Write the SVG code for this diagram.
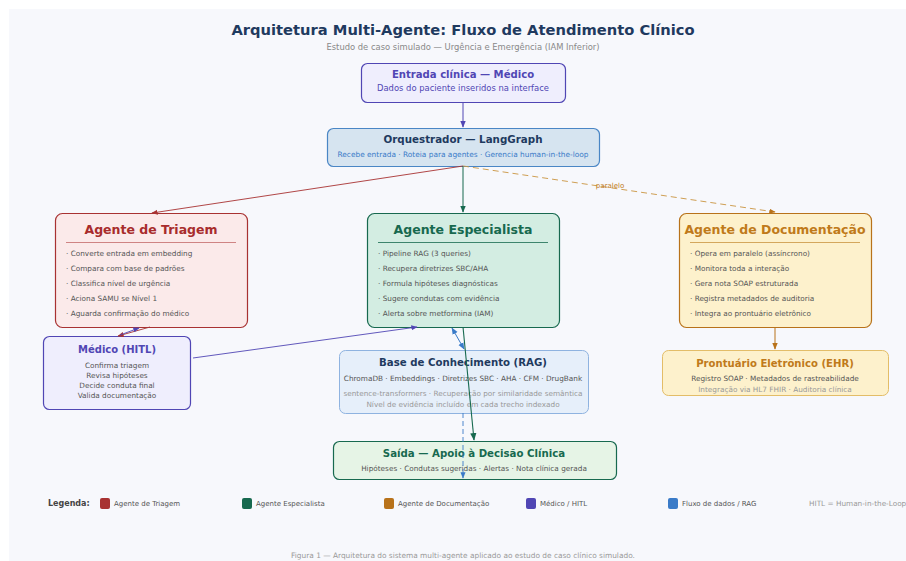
<svg xmlns="http://www.w3.org/2000/svg" width="906" height="561" viewBox="0 0 906 561">
<style>
text{font-family:"DejaVu Sans","Liberation Sans",sans-serif}
.t{font-weight:bold;text-anchor:middle}
.c{text-anchor:middle}
.item{font-size:7.3px;fill:#555}
.sub{font-size:7.3px;fill:#555}
.lite{font-size:7.3px;fill:#999}
.leg{font-size:7px;fill:#555}
</style>
<defs>
<marker id="aR" viewBox="0 0 10 10" refX="9" refY="5" markerWidth="7" markerHeight="7" orient="auto-start-reverse"><path d="M0,1 L10,5 L0,9 z" fill="#a83232"/></marker>
<marker id="aG" viewBox="0 0 10 10" refX="9" refY="5" markerWidth="7" markerHeight="7" orient="auto-start-reverse"><path d="M0,1 L10,5 L0,9 z" fill="#17694f"/></marker>
<marker id="aO" viewBox="0 0 10 10" refX="9" refY="5" markerWidth="7" markerHeight="7" orient="auto-start-reverse"><path d="M0,1 L10,5 L0,9 z" fill="#b8721a"/></marker>
<marker id="aP" viewBox="0 0 10 10" refX="9" refY="5" markerWidth="7" markerHeight="7" orient="auto-start-reverse"><path d="M0,1 L10,5 L0,9 z" fill="#5046b4"/></marker>
<marker id="aB" viewBox="0 0 10 10" refX="9" refY="5" markerWidth="7" markerHeight="7" orient="auto-start-reverse"><path d="M0,1 L10,5 L0,9 z" fill="#3a7bc8"/></marker>
</defs>
<rect x="0" y="0" width="906" height="561" fill="#ffffff"/>
<rect x="9" y="9" width="897" height="552" fill="#f7f8fc"/>

<text x="463" y="35" class="t" font-size="14.7" fill="#1f3a5f">Arquitetura Multi-Agente: Fluxo de Atendimento Clínico</text>
<text x="463" y="50" class="c" font-size="8.4" fill="#888">Estudo de caso simulado — Urgência e Emergência (IAM Inferior)</text>

<g id="entrada">
<rect x="361.5" y="63.5" width="204" height="39" rx="6" fill="#efeefd" stroke="#5046b4" stroke-width="1.2"/>
<text x="463" y="78" class="t" font-size="10.1" fill="#5046b4">Entrada clínica — Médico</text>
<text x="463" y="91" class="c" font-size="8.4" fill="#5046b4">Dados do paciente inseridos na interface</text>
</g>

<g id="orquestrador">
<rect x="327.5" y="128.5" width="272" height="38" rx="6" fill="#d6e4f0" stroke="#4a86c5" stroke-width="1.2"/>
<text x="463" y="143" class="t" font-size="10.3" fill="#1f3a5f">Orquestrador — LangGraph</text>
<text x="463" y="157" class="c" font-size="7.4" fill="#3a7bc8">Recebe entrada · Roteia para agentes · Gerencia human-in-the-loop</text>
</g>

<g id="triagem">
<rect x="55.5" y="213.5" width="192" height="114" rx="7" fill="#fbeaea" stroke="#a83232" stroke-width="1.2"/>
<text x="151" y="234" class="t" font-size="12.5" fill="#a82c2c">Agente de Triagem</text>
<line x1="66" y1="242.5" x2="236" y2="242.5" stroke="#c46a6a" stroke-width="0.8"/>
<text x="66" y="256" class="item">· Converte entrada em embedding</text>
<text x="66" y="271" class="item">· Compara com base de padrões</text>
<text x="66" y="286" class="item">· Classifica nível de urgência</text>
<text x="66" y="301" class="item">· Aciona SAMU se Nível 1</text>
<text x="66" y="316" class="item">· Aguarda confirmação do médico</text>
</g>

<g id="especialista">
<rect x="367.5" y="213.5" width="192" height="114" rx="7" fill="#d3ede2" stroke="#17694f" stroke-width="1.2"/>
<text x="463" y="234" class="t" font-size="12.5" fill="#17694f">Agente Especialista</text>
<line x1="378" y1="242.5" x2="548" y2="242.5" stroke="#17694f" stroke-width="0.8"/>
<text x="378" y="256" class="item">· Pipeline RAG (3 queries)</text>
<text x="378" y="271" class="item">· Recupera diretrizes SBC/AHA</text>
<text x="378" y="286" class="item">· Formula hipóteses diagnósticas</text>
<text x="378" y="301" class="item">· Sugere condutas com evidência</text>
<text x="378" y="316" class="item">· Alerta sobre metformina (IAM)</text>
</g>

<g id="documentacao">
<rect x="679.5" y="213.5" width="192" height="114" rx="7" fill="#fdf1cc" stroke="#b8721a" stroke-width="1.2"/>
<text x="775" y="234" class="t" font-size="12.5" fill="#c07a1a">Agente de Documentação</text>
<line x1="690" y1="242.5" x2="860" y2="242.5" stroke="#c9943f" stroke-width="0.8"/>
<text x="690" y="256" class="item">· Opera em paralelo (assíncrono)</text>
<text x="690" y="271" class="item">· Monitora toda a interação</text>
<text x="690" y="286" class="item">· Gera nota SOAP estruturada</text>
<text x="690" y="301" class="item">· Registra metadados de auditoria</text>
<text x="690" y="316" class="item">· Integra ao prontuário eletrônico</text>
</g>

<g id="hitl">
<rect x="43.5" y="336.5" width="147" height="73" rx="6" fill="#efeefd" stroke="#5046b4" stroke-width="1.2"/>
<text x="117" y="353" class="t" font-size="10" fill="#5046b4">Médico (HITL)</text>
<text x="117" y="368" class="c item">Confirma triagem</text>
<text x="117" y="378" class="c item">Revisa hipóteses</text>
<text x="117" y="388" class="c item">Decide conduta final</text>
<text x="117" y="398" class="c item">Valida documentação</text>
</g>

<g id="rag">
<rect x="339.5" y="350.5" width="249" height="63" rx="6" fill="#e6effa" stroke="#8fb3e0" stroke-width="1"/>
<text x="463" y="366" class="t" font-size="10.2" fill="#1f3a5f">Base de Conhecimento (RAG)</text>
<text x="463" y="381" class="c sub">ChromaDB · Embeddings · Diretrizes SBC · AHA · CFM · DrugBank</text>
<text x="463" y="396" class="c lite">sentence-transformers · Recuperação por similaridade semântica</text>
<text x="463" y="407" class="c lite">Nível de evidência incluído em cada trecho indexado</text>
</g>

<g id="ehr">
<rect x="662.5" y="350.5" width="226" height="45" rx="6" fill="#fdf1cc" stroke="#e3bd68" stroke-width="1"/>
<text x="775" y="367" class="t" font-size="10.1" fill="#c07a1a">Prontuário Eletrônico (EHR)</text>
<text x="775" y="381" class="c sub">Registro SOAP · Metadados de rastreabilidade</text>
<text x="775" y="392" class="c lite">Integração via HL7 FHIR · Auditoria clínica</text>
</g>

<g id="saida">
<rect x="333.5" y="441.5" width="283" height="38" rx="6" fill="#e6f4e6" stroke="#17694f" stroke-width="1.2"/>
<text x="474" y="457" class="t" font-size="10.2" fill="#17694f">Saída — Apoio à Decisão Clínica</text>
<text x="474" y="471" class="c sub">Hipóteses · Condutas sugeridas · Alertas · Nota clínica gerada</text>
</g>

<g id="connectors" fill="none">
<line x1="463" y1="102" x2="463" y2="127" stroke="#5046b4" stroke-width="1" marker-end="url(#aP)"/>
<line x1="463" y1="166" x2="152" y2="213" stroke="#a83232" stroke-width="0.9" marker-end="url(#aR)"/>
<line x1="463" y1="166" x2="463" y2="212" stroke="#17694f" stroke-width="1" marker-end="url(#aG)"/>
<path d="M463,166 L775,212" stroke="#c9943f" stroke-width="0.9" stroke-dasharray="6,4" marker-end="url(#aO)"/>
<text x="610" y="188" class="c" font-size="7" fill="#c07a1a" stroke="none">paralelo</text>
<line x1="150" y1="327" x2="118" y2="336" stroke="#a83232" stroke-width="0.9" marker-end="url(#aR)"/>
<line x1="120" y1="335" x2="139" y2="328" stroke="#5046b4" stroke-width="0.9" marker-end="url(#aP)"/>
<line x1="193" y1="358" x2="417" y2="327" stroke="#5046b4" stroke-width="0.9" marker-end="url(#aP)"/>
<line x1="452" y1="328" x2="464" y2="349" stroke="#3a7bc8" stroke-width="1" marker-start="url(#aB)" marker-end="url(#aB)"/>
<line x1="775" y1="327" x2="775" y2="349" stroke="#b8721a" stroke-width="1" marker-end="url(#aO)"/>
<line x1="463" y1="327" x2="474" y2="440" stroke="#17694f" stroke-width="1.1" marker-end="url(#aG)"/>
<line x1="463" y1="413" x2="463" y2="478" stroke="#3a7bc8" stroke-width="0.9" stroke-dasharray="5,3" marker-end="url(#aB)"/>
</g>

<g id="legenda">
<text x="48" y="506" font-size="8" font-weight="bold" fill="#444">Legenda:</text>
<rect x="100" y="498" width="10" height="11" rx="2" fill="#a83232"/>
<text x="114" y="506" class="leg">Agente de Triagem</text>
<rect x="242" y="498" width="10" height="11" rx="2" fill="#17694f"/>
<text x="256" y="506" class="leg">Agente Especialista</text>
<rect x="384" y="498" width="10" height="11" rx="2" fill="#b8721a"/>
<text x="398" y="506" class="leg">Agente de Documentação</text>
<rect x="526" y="498" width="10" height="11" rx="2" fill="#5046b4"/>
<text x="540" y="506" class="leg">Médico / HITL</text>
<rect x="668" y="498" width="10" height="11" rx="2" fill="#3a7bc8"/>
<text x="682" y="506" class="leg">Fluxo de dados / RAG</text>
<text x="809" y="506" font-size="7.3" fill="#999">HITL = Human-in-the-Loop</text>
</g>

<text x="463" y="558" class="c" font-size="7.4" fill="#999">Figura 1 — Arquitetura do sistema multi-agente aplicado ao estudo de caso clínico simulado.</text>
</svg>
